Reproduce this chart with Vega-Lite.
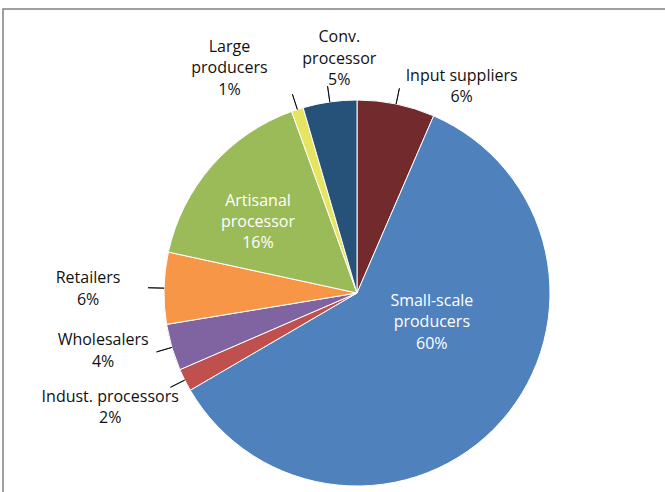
{
  "$schema": "https://vega.github.io/schema/vega-lite/v6.json",
  "autosize": {"type": "none"},
  "width": 708,
  "height": 568,
  "padding": {"left": 3, "top": 9, "right": -46, "bottom": -85},
  "background": "#ffffff",
  "view": {"stroke": "#808080", "strokeWidth": 1.5, "fill": "#ffffff"},
  "data": {
    "values": [
      {"cat": "Input suppliers", "label": "Input suppliers\n6%", "value": 6.5, "ord": 1},
      {"cat": "Small-scale producers", "label": "Small-scale\nproducers\n60%", "value": 60.1, "ord": 2},
      {"cat": "Indust. processors", "label": "Indust. processors\n2%", "value": 1.9, "ord": 3},
      {"cat": "Wholesalers", "label": "Wholesalers\n4%", "value": 3.9, "ord": 4},
      {"cat": "Retailers", "label": "Retailers\n6%", "value": 6.0, "ord": 5},
      {"cat": "Artisanal processor", "label": "Artisanal\nprocessor\n16%", "value": 16.1, "ord": 6},
      {"cat": "Large producers", "label": "Large\nproducers\n1%", "value": 1.0, "ord": 7},
      {"cat": "Conv. processor", "label": "Conv.\nprocessor\n5%", "value": 4.5, "ord": 8}
    ]
  },
  "transform": [
    {"stack": "value", "groupby": [], "sort": [{"field": "ord", "order": "ascending"}], "as": ["v0", "v1"]},
    {"calculate": "(datum.v0 + datum.v1) / 2", "as": "mid"}
  ],
  "layer": [
    {
      "mark": {"type": "arc", "radius": 193, "stroke": "#ffffff", "strokeWidth": 1},
      "encoding": {
        "theta": {"field": "v0", "type": "quantitative", "stack": null, "scale": {"domain": [0, 100]}},
        "theta2": {"field": "v1"},
        "color": {
          "field": "cat", "type": "nominal", "legend": null,
          "scale": {
            "domain": ["Input suppliers", "Small-scale producers", "Indust. processors", "Wholesalers", "Retailers", "Artisanal processor", "Large producers", "Conv. processor"],
            "range": ["#722a2c", "#4f81bd", "#c0504d", "#8064a2", "#f79646", "#9bbb59", "#e6e562", "#265178"]
          }
        }
      }
    },
    {
      "transform": [{"filter": {"field": "cat", "oneOf": ["Input suppliers", "Indust. processors", "Wholesalers", "Retailers", "Large producers", "Conv. processor"]}}],
      "mark": {"type": "arc", "radius": 209, "radius2": 193, "fillOpacity": 0, "stroke": "#000000", "strokeWidth": 0.8},
      "encoding": {
        "theta": {"field": "mid", "type": "quantitative", "stack": null},
        "theta2": {"field": "mid"}
      }
    },
    {
      "transform": [{"filter": {"field": "cat", "equal": "Input suppliers"}}],
      "mark": {"type": "text", "radius": 225, "dx": 59, "dy": 3},
      "encoding": {"theta": {"field": "mid", "type": "quantitative", "stack": null}, "text": {"field": "label"}}
    },
    {
      "transform": [{"filter": {"field": "cat", "equal": "Large producers"}}],
      "mark": {"type": "text", "radius": 225, "dx": -58, "dy": -32},
      "encoding": {"theta": {"field": "mid", "type": "quantitative", "stack": null}, "text": {"field": "label"}}
    },
    {
      "transform": [{"filter": {"field": "cat", "equal": "Conv. processor"}}],
      "mark": {"type": "text", "radius": 225, "dx": 14, "dy": -33},
      "encoding": {"theta": {"field": "mid", "type": "quantitative", "stack": null}, "text": {"field": "label"}}
    },
    {
      "transform": [{"filter": {"field": "cat", "equal": "Retailers"}}],
      "mark": {"type": "text", "radius": 225, "dx": -44, "dy": -9},
      "encoding": {"theta": {"field": "mid", "type": "quantitative", "stack": null}, "text": {"field": "label"}}
    },
    {
      "transform": [{"filter": {"field": "cat", "equal": "Wholesalers"}}],
      "mark": {"type": "text", "radius": 225, "dx": -38, "dy": -16},
      "encoding": {"theta": {"field": "mid", "type": "quantitative", "stack": null}, "text": {"field": "label"}}
    },
    {
      "transform": [{"filter": {"field": "cat", "equal": "Indust. processors"}}],
      "mark": {"type": "text", "radius": 225, "dx": -46, "dy": 2},
      "encoding": {"theta": {"field": "mid", "type": "quantitative", "stack": null}, "text": {"field": "label"}}
    },
    {
      "transform": [{"filter": {"field": "cat", "equal": "Artisanal processor"}}],
      "mark": {"type": "text", "radius": 125, "dx": -5, "dy": -10, "color": "#ffffff"},
      "encoding": {"theta": {"field": "mid", "type": "quantitative", "stack": null}, "text": {"field": "label"}}
    },
    {
      "transform": [{"filter": {"field": "cat", "equal": "Small-scale producers"}}],
      "mark": {"type": "text", "radius": 80, "dx": 15, "dy": -45, "color": "#ffffff"},
      "encoding": {"theta": {"field": "mid", "type": "quantitative", "stack": null}, "text": {"field": "label"}}
    }
  ],
  "config": {
    "view": {"stroke": "#808080", "strokeWidth": 1.5},
    "text": {"font": "Open Sans", "fontSize": 16, "lineHeight": 21.3, "lineBreak": "\n", "align": "center", "baseline": "middle", "color": "#111111"}
  }
}
